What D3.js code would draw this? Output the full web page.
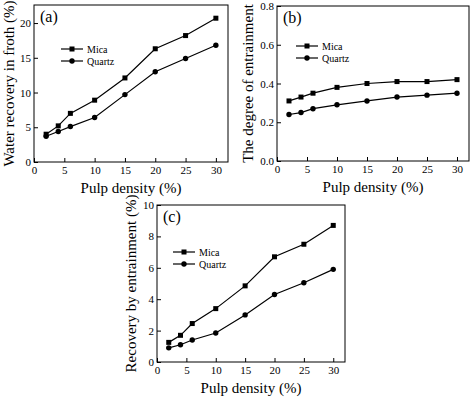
<!DOCTYPE html><html><head><meta charset="utf-8"><script src="https://cdn.jsdelivr.net/npm/d3@7"></script>
<style>body{margin:0;background:#fff}svg text{font-family:"Liberation Serif","DejaVu Serif",Times,serif !important;fill:#000}</style></head><body>
<svg id="c" width="474" height="400" font-family="Liberation Serif, DejaVu Serif, serif"></svg>
<script>
const density=[2,4,6,10,15,20,25,30];
const waterMica=[4.0,5.2,7.0,8.9,12.1,16.3,18.2,20.7];
const waterQuartz=[3.7,4.4,5.1,6.4,9.7,13.0,14.9,16.8];
const degMica=[0.31,0.33,0.35,0.38,0.40,0.41,0.41,0.42];
const degQuartz=[0.24,0.25,0.27,0.29,0.31,0.33,0.34,0.35];
const recMica=[1.25,1.7,2.45,3.4,4.85,6.7,7.5,8.7];
const recQuartz=[0.9,1.1,1.4,1.85,3.0,4.3,5.05,5.9];
const seriesNames=["Mica","Quartz"];
const svg=d3.select("#c");
function panel(o){
  const g=svg.append("g");
  const x=d3.scaleLinear().domain([0,32]).range([o.l,o.r]);
  const y=d3.scaleLinear().domain([0,o.ymax]).range([o.b,o.t]);
  g.append("rect").attr("x",o.l).attr("y",o.t).attr("width",o.r-o.l).attr("height",o.b-o.t).attr("fill","none").attr("stroke","#000");
  const xa=g.append("g").attr("transform",`translate(0,${o.b})`).call(d3.axisBottom(x).tickValues([0,5,10,15,20,25,30]).tickSize(-4).tickSizeOuter(0).tickPadding(4));
  const ya=g.append("g").attr("transform",`translate(${o.l},0)`).call(d3.axisLeft(y).tickValues(o.ticks).tickFormat(o.fmt).tickSize(-4).tickSizeOuter(0).tickPadding(3));
  [xa,ya].forEach(a=>{a.attr("font-family",null);a.select(".domain").remove();a.selectAll("text").style("font-size","11px");});
  const line=d3.line().x((d,i)=>x(density[i])).y(d=>y(d));
  [o.s1,o.s2].forEach((s,k)=>{
    g.append("path").attr("d",line(s)).attr("fill","none").attr("stroke","#000").attr("stroke-width",1.2);
    const pts=g.selectAll(null).data(s).enter();
    if(k==0) pts.append("rect").attr("x",(d,i)=>x(density[i])-2.5).attr("y",d=>y(d)-2.5).attr("width",5).attr("height",5);
    else pts.append("circle").attr("cx",(d,i)=>x(density[i])).attr("cy",d=>y(d)).attr("r",2.7);
  });
  seriesNames.forEach((n,k)=>{
    const ly=o.t+o.leg[1]+k*12;
    g.append("line").attr("x1",o.l+o.leg[0]).attr("x2",o.l+o.leg[0]+22).attr("y1",ly).attr("y2",ly).attr("stroke","#000").attr("stroke-width",1.2);
    if(k==0) g.append("rect").attr("x",o.l+o.leg[0]+8.5).attr("y",ly-2.5).attr("width",5).attr("height",5);
    else g.append("circle").attr("cx",o.l+o.leg[0]+11).attr("cy",ly).attr("r",2.7);
    g.append("text").attr("x",o.l+o.leg[0]+26).attr("y",ly+3.5).style("font-size","10px").text(n);
  });
  g.append("text").attr("x",o.l+6).attr("y",o.t+17).style("font-size","16px").text(o.label);
  g.append("text").attr("x",(o.l+o.r)/2).attr("y",o.b+31).attr("text-anchor","middle").style("font-size","15px").text(o.xt);
  g.append("text").attr("transform",`translate(${o.yx},${(o.t+o.b)/2}) rotate(-90)`).attr("text-anchor","middle").style("font-size","15px").text(o.yt);
}
panel({l:34,r:228,t:5,b:162,ymax:22.6,ticks:[0,5,10,15,20],fmt:d3.format("d"),s1:waterMica,s2:waterQuartz,leg:[27,44],label:"(a)",xt:"Pulp density (%)",yt:"Water recovery in froth (%)",yx:14});
panel({l:277,r:469,t:6,b:161,ymax:0.8,ticks:[0,0.2,0.4,0.6,0.8],fmt:d3.format(".1f"),s1:degMica,s2:degQuartz,leg:[19,40],label:"(b)",xt:"Pulp density (%)",yt:"The degree of entrainment",yx:253});
panel({l:157,r:345,t:205,b:362,ymax:10,ticks:[0,2,4,6,8,10],fmt:d3.format("d"),s1:recMica,s2:recQuartz,leg:[16,47],label:"(c)",xt:"Pulp density (%)",yt:"Recovery by entrainment (%)",yx:136});
</script></body></html>
